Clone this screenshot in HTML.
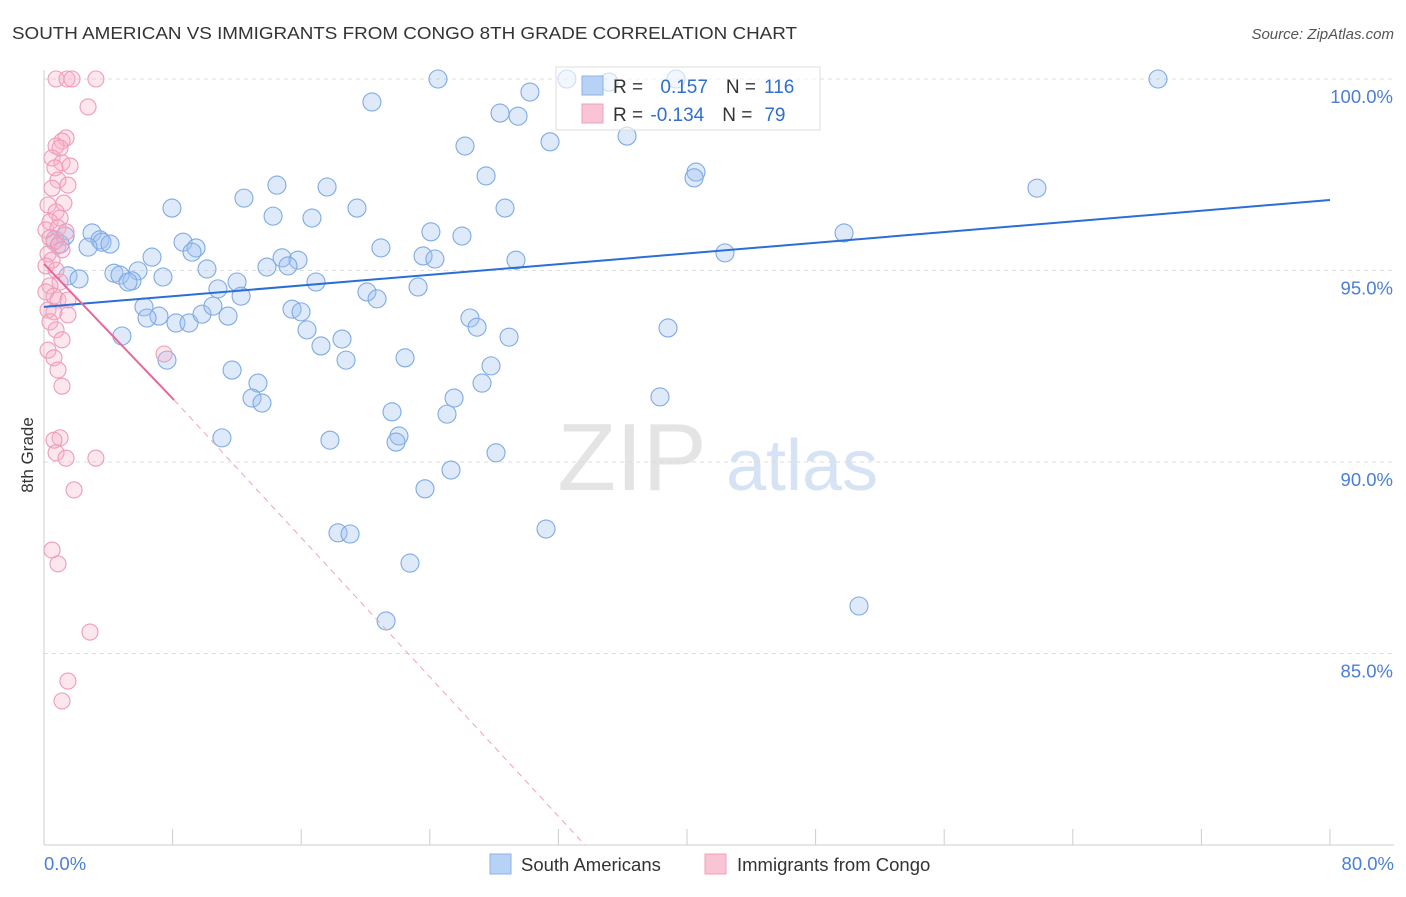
<!DOCTYPE html>
<html><head><meta charset="utf-8"><style>
body{margin:0;background:#fff;font-family:"Liberation Sans",sans-serif;}
svg text{font-family:"Liberation Sans",sans-serif;}
</style></head><body>
<svg id="chart" width="1406" height="892" xmlns="http://www.w3.org/2000/svg">
<text x="12" y="39" font-size="17.5" fill="#333" textLength="785" lengthAdjust="spacingAndGlyphs">SOUTH AMERICAN VS IMMIGRANTS FROM CONGO 8TH GRADE CORRELATION CHART</text>
<text x="1394" y="39" font-size="15" fill="#555" text-anchor="end" font-style="italic">Source: ZipAtlas.com</text>
<text x="33" y="455" font-size="17" fill="#333" text-anchor="middle" transform="rotate(-90 33 455)">8th Grade</text>
<g>
<text x="632" y="490" font-size="96" fill="#e4e4e4" text-anchor="middle" font-family="Liberation Serif">ZIP</text>
<text x="802" y="490" font-size="72" fill="#d6e3f4" text-anchor="middle">atlas</text>
</g>
<g id="grid"></g><g id="axes"></g><g id="pts"></g><g id="trends"></g>
<g>
<rect x="556" y="67" width="264" height="63" fill="rgba(255,255,255,0.6)" stroke="#ddd"/>
<rect x="582" y="76" width="21" height="19" fill="#b8d2f5" stroke="#8ab4e8"/>
<rect x="582" y="104" width="21" height="19" fill="#f9c4d4" stroke="#f0a0bb"/>
<text x="613" y="93" font-size="19" fill="#333">R = <tspan fill="#2f6fd0" dx="12">0.157</tspan><tspan dx="18" fill="#333">N =</tspan><tspan dx="8" fill="#2f6fd0">116</tspan></text>
<text x="613" y="121" font-size="19" fill="#333">R = <tspan fill="#2f6fd0" dx="2">-0.134</tspan><tspan dx="18" fill="#333">N =</tspan><tspan dx="12" fill="#2f6fd0">79</tspan></text>
</g>
<g>
<rect x="490" y="854" width="21" height="20" fill="#b8d2f5" stroke="#8ab4e8"/>
<text x="521" y="871" font-size="18.5" fill="#333">South Americans</text>
<rect x="705" y="854" width="21" height="20" fill="#f9c4d4" stroke="#f0a0bb"/>
<text x="737" y="871" font-size="18.5" fill="#333">Immigrants from Congo</text>
</g>
</svg>
<script>
const yTicks=[100,95,90,85];
const yTickLabels=["100.0%","95.0%","90.0%","85.0%"];
const xTickVals=[0,8,16,24,32,40,48,56,64,72,80];
const xEdgeLabels=["0.0%","80.0%"];
const blueX=[24.51,32.53,39.31,69.30,35.15,20.40,30.23,28.37,29.49,26.19,31.48,36.27,27.50,40.56,40.44,61.77,14.49,17.61,12.44,7.96,19.47,28.68,14.25,16.67,24.07,26.00,49.77,2.99,3.48,8.65,9.46,20.96,9.21,3.61,4.11,2.74,0.68,1.31,1.00,6.72,42.36,23.58,24.32,29.36,14.81,15.80,13.87,15.18,10.14,5.85,4.35,4.73,1.49,2.18,5.47,5.23,7.40,12.01,16.92,10.82,12.26,20.09,20.72,23.27,6.22,7.15,6.41,8.21,9.02,9.83,10.51,11.45,15.43,15.99,16.36,18.54,17.23,26.50,26.94,28.93,38.82,4.85,7.65,18.79,22.46,11.70,27.81,27.25,13.31,12.94,13.56,25.51,38.32,21.65,25.07,11.07,17.79,22.08,21.90,28.12,25.32,23.70,18.29,19.04,31.23,22.77,50.70,21.28];
const blueY=[100,100,100,100,99.92,99.40,99.66,99.11,99.03,98.25,98.36,98.51,97.47,97.57,97.42,97.15,97.23,97.18,96.89,96.63,96.63,96.63,96.42,96.37,96.01,95.90,95.98,95.98,95.80,95.74,95.59,95.59,95.48,95.74,95.69,95.61,95.80,95.90,95.69,95.35,95.46,95.38,95.30,95.27,95.33,95.27,95.09,95.12,95.04,94.99,94.93,94.88,94.86,94.78,94.73,94.70,94.83,94.70,94.70,94.52,94.33,94.44,94.26,94.57,94.05,93.81,93.76,93.63,93.63,93.86,94.07,93.81,93.99,93.92,93.45,93.21,93.03,93.76,93.52,93.26,93.50,93.29,92.66,92.66,92.72,92.40,92.51,92.06,92.06,91.67,91.54,91.67,91.70,91.31,91.25,90.63,90.57,90.68,90.52,90.24,89.79,89.30,88.15,88.12,88.25,87.36,86.24,85.85];
const pinkX=[0.75,1.43,1.74,3.23,2.74,1.37,1.12,0.75,1.00,0.50,1.12,1.62,0.68,0.87,1.49,0.50,0.25,1.24,0.75,1.00,0.37,0.12,0.87,1.37,0.37,0.62,0.87,1.12,0.25,0.50,0.12,0.75,1.00,0.37,0.12,0.62,0.87,1.49,0.25,0.62,1.49,0.37,0.75,1.12,0.25,0.62,7.47,0.87,1.12,1.00,0.62,0.75,1.37,3.23,1.87,0.50,0.87,2.86,1.49,1.12];
const pinkY=[100,100,100,100,99.27,98.46,98.38,98.25,98.20,97.94,97.81,97.73,97.68,97.36,97.23,97.15,96.71,96.76,96.53,96.37,96.27,96.06,96.11,96.01,95.85,95.74,95.64,95.54,95.43,95.27,95.12,95.01,94.70,94.60,94.44,94.33,94.23,94.23,93.97,93.92,93.84,93.66,93.45,93.19,92.92,92.72,92.82,92.40,91.98,90.63,90.57,90.24,90.10,90.10,89.27,87.70,87.34,85.56,84.28,83.76];
const blueTrend=[94.05,96.84];
const pinkTrend=[95.17,91.62,80.0];
const pinkTrendX=[0,8.09,33.65];

const X=v=>44+v*16.075;
const Y=v=>79+(100-v)*38.3;
const NS="http://www.w3.org/2000/svg";
function mk(tag,attrs,parent){const e=document.createElementNS(NS,tag);for(const k in attrs)e.setAttribute(k,attrs[k]);document.getElementById(parent).appendChild(e);return e;}

yTicks.forEach((t,i)=>{
  const l=mk('line',{x1:44,x2:1394,y1:Y(t),y2:Y(t),stroke:'#ddd','stroke-dasharray':'4,4'},'grid');
  
  
  const tx=mk('text',{x:1393,y:Y(t)+24,'font-size':18.5,fill:'#4a7fd4','text-anchor':'end'},'grid');
  tx.textContent=yTickLabels[i];
  
  
});
const ax=mk('line',{x1:44,x2:1394,y1:845,y2:845,stroke:'#ccc'},'axes');


const ay=mk('line',{x1:44,x2:44,y1:70,y2:845,stroke:'#ccc'},'axes');


xTickVals.forEach(v=>{
  const t=mk('line',{x1:X(v),x2:X(v),y1:829,y2:845,stroke:'#ccc'},'axes');
  
  
});
[[0,'start',44],[80,'end',1394]].forEach((d,i)=>{
  const t=mk('text',{x:d[2],y:870,'font-size':18.5,fill:'#4a7fd4','text-anchor':d[1]},'axes');
  t.textContent=xEdgeLabels[i];
  
  
});
blueX.forEach((v,i)=>{
  const c=mk('circle',{cx:X(v),cy:Y(blueY[i]),r:9,fill:'rgba(160,195,240,0.35)',stroke:'#7eaae6','stroke-width':1.1},'pts');
  
  
});
pinkX.forEach((v,i)=>{
  const c=mk('circle',{cx:X(v),cy:Y(pinkY[i]),r:8,fill:'rgba(248,175,200,0.3)',stroke:'#f09ab8','stroke-width':1.1},'pts');
  
  
});
const bt=mk('line',{x1:X(0),y1:Y(blueTrend[0]),x2:X(80),y2:Y(blueTrend[1]),stroke:'#2a6fd6','stroke-width':2},'trends');


const pt=mk('line',{x1:X(pinkTrendX[0]),y1:Y(pinkTrend[0]),x2:X(pinkTrendX[1]),y2:Y(pinkTrend[1]),stroke:'#e8669a','stroke-width':2},'trends');


const pd=mk('line',{x1:X(pinkTrendX[1]),y1:Y(pinkTrend[1]),x2:X(pinkTrendX[2]),y2:Y(pinkTrend[2]),stroke:'#f0a0bb','stroke-width':1,'stroke-dasharray':'6,5'},'trends');


</script>
</body></html>
